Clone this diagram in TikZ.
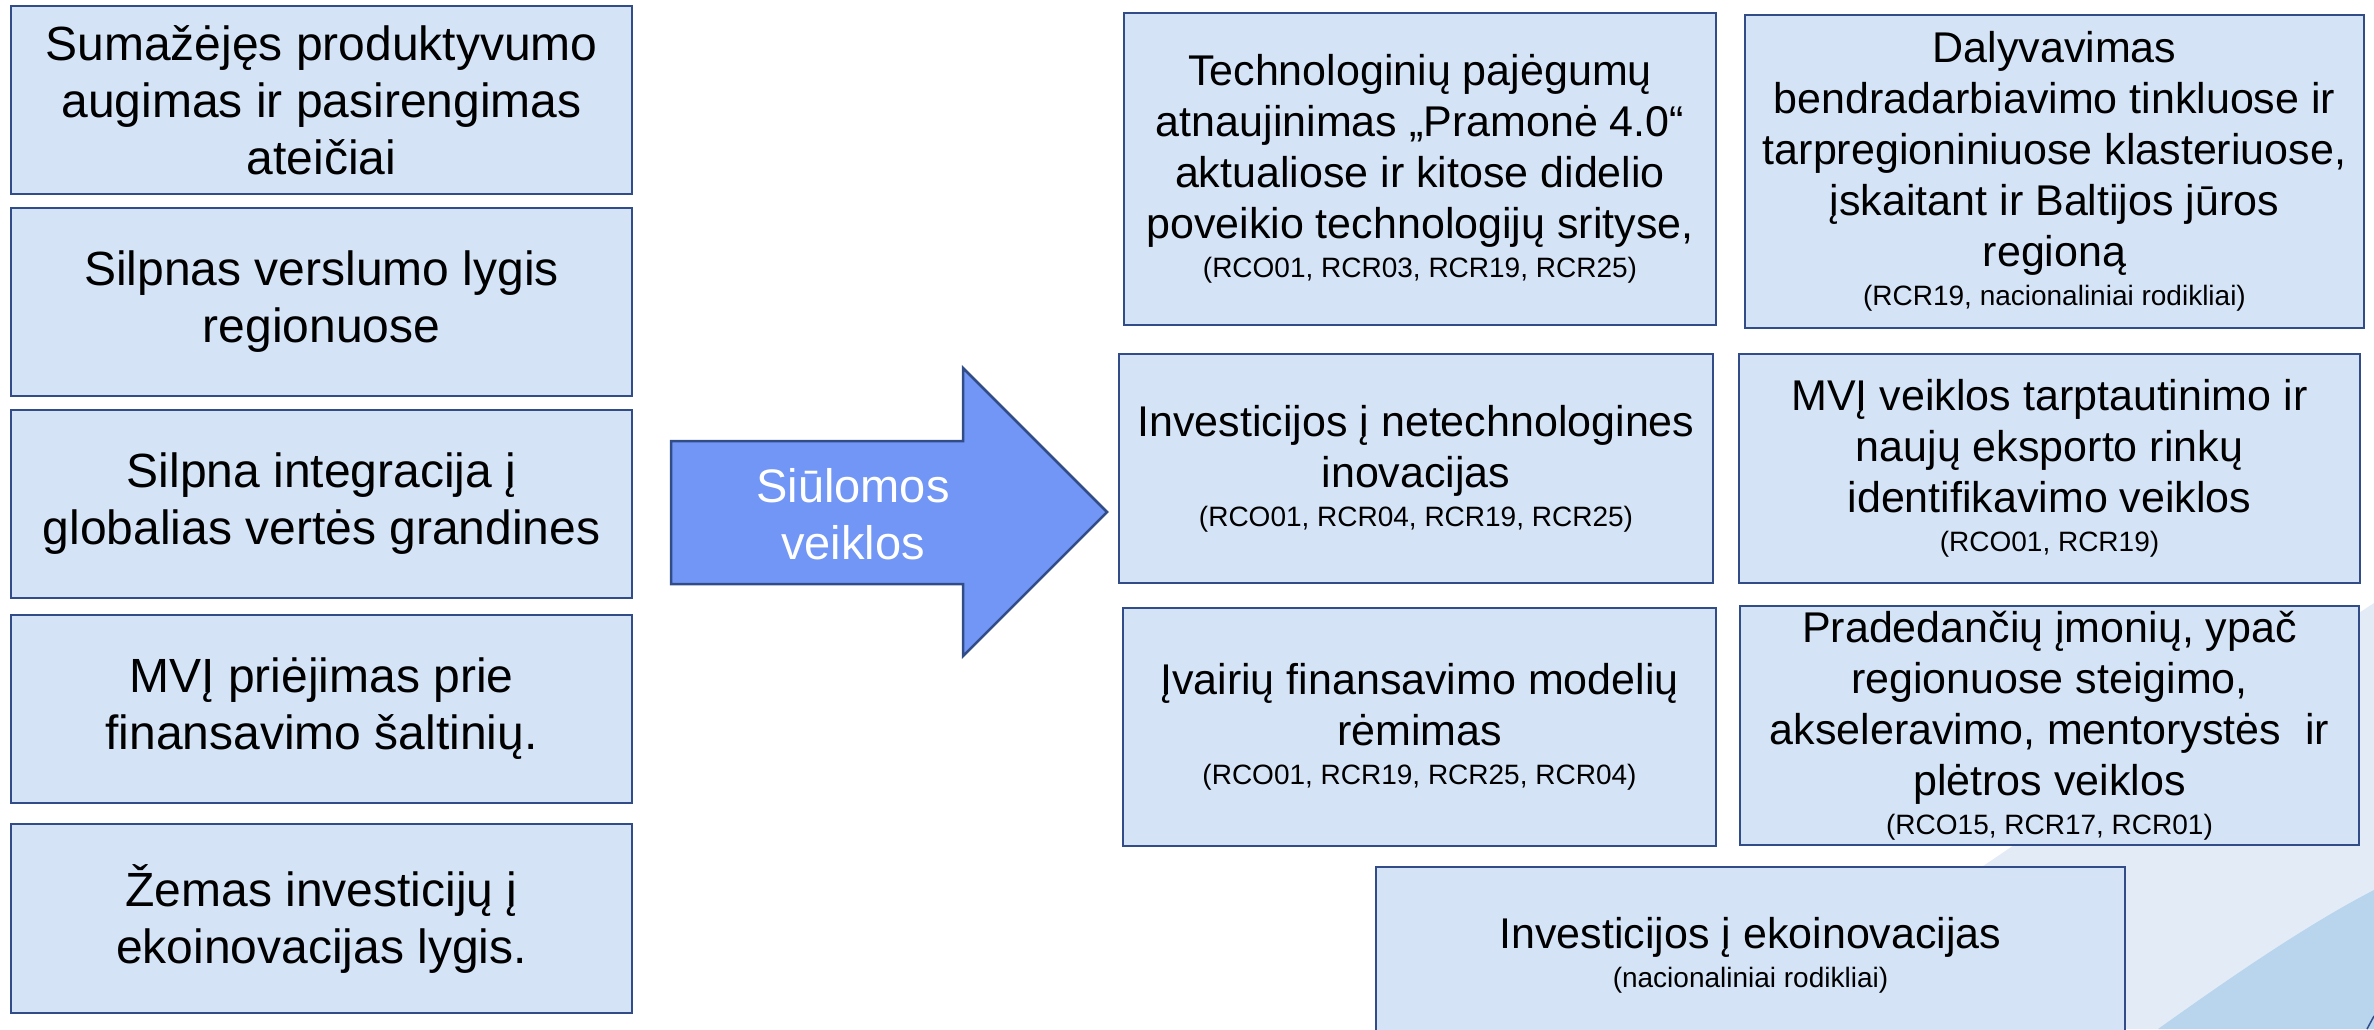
\documentclass[tikz,border=0pt]{standalone}
\usepackage{fontspec}
\setmainfont{Liberation Sans}
\definecolor{boxc}{RGB}{212,227,246}
\definecolor{bordc}{RGB}{50,76,136}
\definecolor{arrowc}{RGB}{114,150,245}
\definecolor{lightbg}{RGB}{227,235,246}
\definecolor{darkbg}{RGB}{185,213,237}
\begin{document}
\begin{tikzpicture}[x=1pt,y=-1pt,
  basebox/.style={draw=bordc, fill=boxc, line width=2.5pt, align=center, inner sep=0pt, text=black},
  lbox/.style={basebox, minimum width=621pt, minimum height=188pt, font=\fontsize{48}{57}\selectfont},
  rbox/.style={basebox, font=\fontsize{43}{51}\selectfont},
  arrowsty/.style={draw=bordc, fill=arrowc, line width=2.5pt, line join=miter},
  atext/.style={align=center, text=white, inner sep=0pt, font=\fontsize{47}{57}\selectfont}]
\newcommand{\smalltxt}[1]{\\[-12pt]{\fontsize{28}{34}\selectfont #1}}
\useasboundingbox (0,0) rectangle (2374,1029);
\clip (0,0) rectangle (2374,1029);
% background swooshes
\fill[lightbg] (1740,1029) .. controls (1900,925) and (2150,750) .. (2374,603) -- (2374,1029) -- cycle;
\fill[darkbg] (2158,1029) .. controls (2210,992) and (2300,928) .. (2374,890) -- (2374,1029) -- cycle;
\draw[bordc, line width=1.5pt] (2367,1029) -- (2374,1016);
% left column
\node[lbox] (p1) at (321.5,100) {Sumažėjęs produktyvumo\\augimas ir pasirengimas\\ateičiai};
\node[lbox] (p2) at (321.5,302) {Silpnas verslumo lygis\\regionuose};
\node[lbox] (p3) at (321.5,504) {Silpna integracija į\\globalias vertės grandines};
\node[lbox] (p4) at (321.5,709) {MVĮ priėjimas prie\\finansavimo šaltinių.};
\node[lbox, minimum height=189pt] (p5) at (321.5,918.5) {Žemas investicijų į\\ekoinovacijas lygis.};
% arrow
\draw[arrowsty] (671,441) -- (963,441) -- (963,368) -- (1107,512) -- (963,656) -- (963,584) -- (671,584) -- cycle;
\node[atext] (arr) at (853,514) {Siūlomos\\veiklos};
% right boxes
\node[rbox, minimum width=592pt, minimum height=312pt] (a) at (1420,169)
  {Technologinių pajėgumų\\atnaujinimas „Pramonė 4.0“\\aktualiose ir kitose didelio\\poveikio technologijų srityse,\smalltxt{(RCO01, RCR03, RCR19, RCR25)}};
\node[rbox, minimum width=619pt, minimum height=313pt] (b) at (2054.5,171.5)
  {Dalyvavimas\\bendradarbiavimo tinkluose ir\\tarpregioniniuose klasteriuose,\\įskaitant ir Baltijos jūros\\regioną\smalltxt{(RCR19, nacionaliniai rodikliai)}};
\node[rbox, minimum width=594pt, minimum height=229pt] (c) at (1416,468.5)
  {Investicijos į netechnologines\\inovacijas\smalltxt{(RCO01, RCR04, RCR19, RCR25)}};
\node[rbox, minimum width=621pt, minimum height=229pt] (d) at (2049.5,468.5)
  {MVĮ veiklos tarptautinimo ir\\naujų eksporto rinkų\\identifikavimo veiklos\smalltxt{(RCO01, RCR19)}};
\node[rbox, minimum width=593pt, minimum height=238pt] (e) at (1419.5,727)
  {Įvairių finansavimo modelių\\rėmimas\smalltxt{(RCO01, RCR19, RCR25, RCR04)}};
\node[rbox, minimum width=619pt, minimum height=239pt] (f) at (2049.5,725.5)
  {Pradedančių įmonių, ypač\\regionuose steigimo,\\akseleravimo, mentorystės\ \ ir\\plėtros veiklos\smalltxt{(RCO15, RCR17, RCR01)}};
\node[rbox, minimum width=749pt, minimum height=176pt] (g) at (1750.5,955)
  {Investicijos į ekoinovacijas\smalltxt{(nacionaliniai rodikliai)}};
\end{tikzpicture}
\end{document}
